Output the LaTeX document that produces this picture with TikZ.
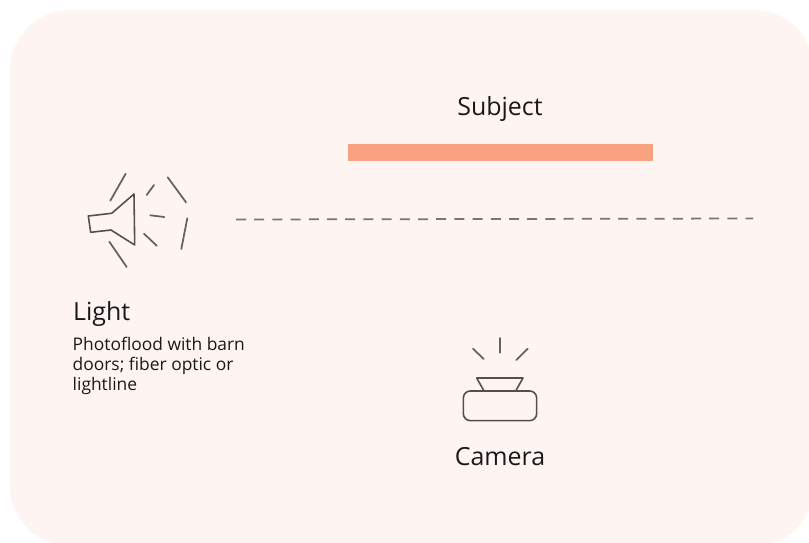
\documentclass[tikz,border=0pt]{standalone}
\usepackage{fontspec}
\setmainfont{Open Sans}
\definecolor{panelpink}{HTML}{FEF5F2}
\definecolor{subjectorange}{HTML}{F9A27F}
\definecolor{inkgray}{HTML}{3C3C3C}
\tikzset{
  icon/.style={draw=inkgray!90, line width=0.45pt, line join=round},
  ray/.style={draw=inkgray!80, line width=0.5pt, line cap=round},
  title/.style={inner sep=0pt, text=black!90, font=\fontsize{7.1}{8}\selectfont},
  note/.style={inner sep=0pt, text=black!90, align=left, font=\fontsize{4.95}{5.7}\selectfont}
}
\begin{document}
\begin{tikzpicture}
    \useasboundingbox (0,0) rectangle (8.09,5.42);
    \clip (0,0) rectangle (8.09,5.42);

    % Panel
    \fill[panelpink, rounded corners=0.6cm] (0.1,-0.04) rectangle (8.14,5.32);

    % Subject
    \node[fill=subjectorange, minimum width=3.05cm, minimum height=0.17cm, inner sep=0pt] (subject) at (5.005,3.895) {};
    \node[title] (subjectlabel) at (5.0,4.33) {Subject};

    % Dashed line
    \coordinate (dashstart) at (2.36,3.225);
    \coordinate (dashend) at (7.53,3.235);
    \draw[draw=inkgray!70, line width=0.5pt, dash pattern=on 0.1cm off 0.082cm] (dashstart) -- (dashend);

    % Light
    \draw[icon] (0.883,3.26) -- (1.117,3.287) -- (1.34,3.48) -- (1.347,2.97) -- (1.11,3.12) -- (0.907,3.097) -- cycle;
    \draw[ray] (1.257,3.683) -- (1.103,3.413);
    \draw[ray] (1.54,3.57) -- (1.467,3.47);
    \draw[ray] (1.677,3.647) -- (1.86,3.397);
    \draw[ray] (1.503,3.267) -- (1.643,3.25);
    \draw[ray] (1.873,3.237) -- (1.813,2.93);
    \draw[ray] (1.44,3.083) -- (1.567,2.963);
    \draw[ray] (1.093,3.003) -- (1.267,2.75);
    \node[title, anchor=base west] (lightlabel) at (0.725,2.22) {Light};
    \node[note, anchor=north west] (lightnote) at (0.72,2.055) {Photoflood with barn\\doors; fiber optic or\\lightline};

    % Camera
    \node[icon, rounded corners=0.07cm, minimum width=0.733cm, minimum height=0.297cm, inner sep=0pt] (camerabody) at (5.0,1.362) {};
    \draw[icon] (4.84,1.51) -- (4.767,1.64) -- (5.23,1.64) -- (5.157,1.51);
    \draw[ray] (5.0,2.04) -- (5.0,1.893);
    \draw[ray] (4.73,1.933) -- (4.837,1.83);
    \draw[ray] (5.277,1.933) -- (5.163,1.82);
    \node[title] (cameralabel) at (5.0,0.85) {Camera};
\end{tikzpicture}
\end{document}
